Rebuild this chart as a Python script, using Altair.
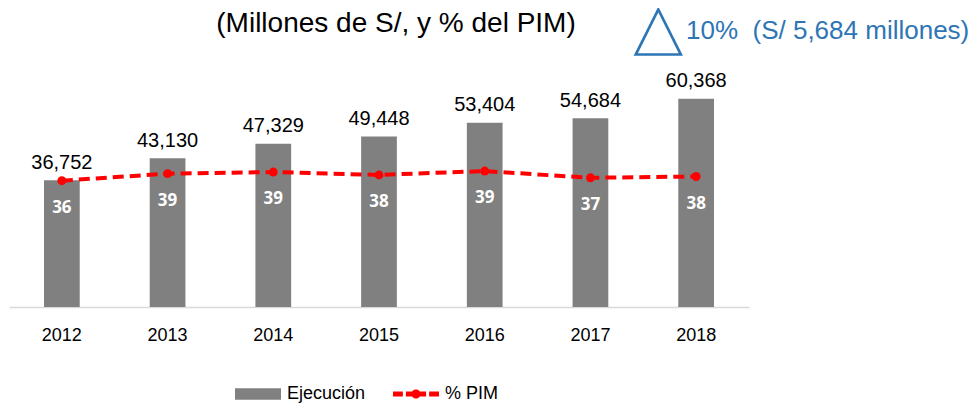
import altair as alt
import pandas as pd

# ---- data ----
anios = ["2012", "2013", "2014", "2015", "2016", "2017", "2018"]
ejecucion = [36752, 43130, 47329, 49448, 53404, 54684, 60368]
pct_pim = [36.4, 38.6, 39.1, 38.2, 39.4, 37.3, 37.7]
series = ["Ejecución", "% PIM"]
titulo = "(Millones de S/, y % del PIM)"

delta = ejecucion[-1] - ejecucion[-2]
pct = delta / ejecucion[-2] * 100
nota = f"{pct:.0f}%\u00a0 (S/ {delta:,} millones)"

df = pd.DataFrame({"anio": anios, "ejec": ejecucion, "pim": pct_pim})
df["ejec_lbl"] = [f"{v:,}" for v in ejecucion]
df["pim_lbl"] = [f"{v:.0f}" for v in pct_pim]

FONT = "Liberation Sans"
BLUE = "#2e75b6"
RED = "#ff0000"
GRAY = "#808080"

x_enc = alt.X(
    "anio:N", sort=anios,
    scale=alt.Scale(paddingInner=0.662, paddingOuter=0.331),
    axis=alt.Axis(title=None, labelAngle=0, ticks=False, labelPadding=19,
                  domainColor="#d9d9d9", domainWidth=1.5, grid=False,
                  labelFont=FONT, labelFontSize=18, labelColor="black"),
)
y_ejec = alt.Y("ejec:Q", scale=alt.Scale(domain=[0, 80000], nice=False, zero=False), axis=None)
y_pim = alt.Y("pim:Q", scale=alt.Scale(domain=[-3.1, 83.2], nice=False, zero=False), axis=None)

base = alt.Chart(df)

bars = base.mark_bar(color=GRAY).encode(x=x_enc, y=y_ejec)
bar_lbl = base.mark_text(dy=-11.7, baseline="alphabetic", fontSize=20, font=FONT,
                         color="black").encode(x=x_enc, y=y_ejec, text="ejec_lbl:N")

line = base.mark_line(color=RED, strokeWidth=4, strokeDash=[11, 6]).encode(x=x_enc, y=y_pim)
pts = base.mark_circle(color=RED, size=80, opacity=1).encode(x=x_enc, y=y_pim)
pim_lbl = base.mark_text(dy=27, baseline="middle", fontSize=17, font="Open Sans",
                         fontWeight="bold", color="white").encode(x=x_enc, y=y_pim, text="pim_lbl:N")

ann = pd.DataFrame({"t": [titulo], "nota": [nota]})
title_txt = alt.Chart(ann).mark_text(align="center", baseline="alphabetic", fontSize=28,
                                     font=FONT, color="black").encode(
    x=alt.value(387), y=alt.value(1), text="t:N")
tri = alt.Chart(ann).mark_point(shape="M0,-1L1,1L-1,1Z", filled=False, size=2025,
                                color=BLUE, strokeWidth=2.7, opacity=1).encode(
    x=alt.value(649.3), y=alt.value(1))
nota_txt = alt.Chart(ann).mark_text(align="left", baseline="alphabetic", fontSize=26,
                                    font=FONT, color=BLUE).encode(
    x=alt.value(677), y=alt.value(8), text="nota:N")

rect_path = "M-1,-0.254H1V0.254H-1Z"
line_path = ("M-1,-0.11H-0.57V0.11H-1Z M-0.44,-0.11H-0.15V0.11H-0.44Z "
             "M0.15,-0.11H0.44V0.11H0.15Z M0.57,-0.11H1V0.11H0.57Z "
             "M0.2,0A0.2,0.2,0,1,1,-0.2,0A0.2,0.2,0,1,1,0.2,0Z")
leg = alt.Legend(title=None, orient="none", legendX=226, legendY=340, direction="horizontal",
                 symbolSize=2116, symbolStrokeWidth=0, labelFont=FONT, labelFontSize=18,
                 labelColor="black", labelOffset=6, columnPadding=27, padding=0)
legend_layer = alt.Chart(pd.DataFrame({"serie": series})).mark_point(
    filled=True, size=0, opacity=1).encode(
    color=alt.Color("serie:N", scale=alt.Scale(domain=series, range=[GRAY, RED]), legend=leg),
    shape=alt.Shape("serie:N", scale=alt.Scale(domain=series, range=[rect_path, line_path]), legend=leg),
)

chart = alt.layer(
    alt.layer(bars, bar_lbl),
    alt.layer(line, pts, pim_lbl),
    title_txt, tri, nota_txt, legend_layer,
).resolve_scale(y="independent").properties(
    width=740, height=276,
    autosize=alt.AutoSizeParams(type="none"),
    padding={"left": 1, "top": 23, "right": 223, "bottom": 97},
    background="white",
).configure_view(strokeWidth=0)

chart.save("out.html", embed_options={"renderer": "svg", "actions": False})
